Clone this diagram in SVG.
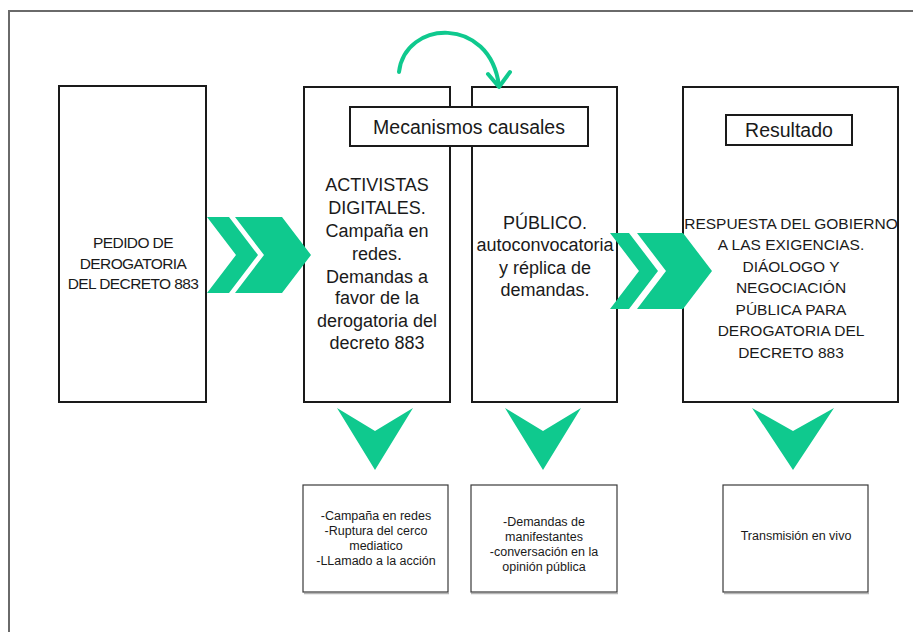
<svg xmlns="http://www.w3.org/2000/svg" width="913" height="632" viewBox="0 0 913 632">
  <defs>
    <style>
      .frame { fill: none; stroke: #6a6a6a; stroke-width: 2; }
      .box { fill: #ffffff; stroke: #1a1a1a; stroke-width: 2; }
      .label { fill: #ffffff; stroke: #1a1a1a; stroke-width: 2; }
      .small { fill: #ffffff; stroke: #3a3a3a; stroke-width: 1.2; }
      .shadow { fill: none; stroke: #b5b5b5; stroke-width: 1.5; }
      .t { font-family: "Liberation Sans", Arial, sans-serif; fill: #1a1a1a; text-anchor: middle; }
      .big { font-size: 18px; }
      .caps { font-size: 15.5px; }
      .head { font-size: 19.5px; }
      .note { font-size: 12.5px; }
      .green { fill: #0fc98e; }
      .curve { fill: none; stroke: #0fc98e; stroke-width: 4; stroke-linecap: round; stroke-linejoin: round; }
    </style>
  </defs>

  <rect width="913" height="632" fill="#ffffff"/>
  <path class="frame" d="M9,632 V11 H913"/>

  <!-- starting demand -->
  <g id="node-pedido">
    <rect class="box" x="59" y="86" width="147" height="316" stroke="#2a2a2a"/>
    <text class="t caps" x="133" y="247.5" font-size="15" letter-spacing="-0.6">PEDIDO DE</text>
    <text class="t caps" x="133" y="268.5" font-size="15" letter-spacing="-0.6">DEROGATORIA</text>
    <text class="t caps" x="133" y="289" font-size="15" letter-spacing="-0.6">DEL DECRETO 883</text>
  </g>

  <!-- digital activists -->
  <g id="node-activistas">
    <rect class="box" x="304" y="87" width="146" height="315"/>
    <text class="t big" x="377" y="191">ACTIVISTAS</text>
    <text class="t big" x="377" y="213.5">DIGITALES.</text>
    <text class="t big" x="377" y="237">Campaña en</text>
    <text class="t big" x="377" y="260">redes.</text>
    <text class="t big" x="377" y="282.5">Demandas a</text>
    <text class="t big" x="377" y="304">favor de la</text>
    <text class="t big" x="377" y="327">derogatoria del</text>
    <text class="t big" x="377" y="349">decreto 883</text>
  </g>

  <!-- public -->
  <g id="node-publico">
    <rect class="box" x="472" y="87" width="145" height="315"/>
    <text class="t big" x="545" y="229">PÚBLICO.</text>
    <text class="t big" x="545" y="251">autoconvocatoria</text>
    <text class="t big" x="545" y="274">y réplica de</text>
    <text class="t big" x="545" y="296">demandas.</text>
  </g>

  <!-- shared heading over the two mechanism boxes -->
  <g id="node-mecanismos">
    <rect class="label" x="350" y="107" width="238" height="39"/>
    <text class="t head" x="469" y="134">Mecanismos causales</text>
  </g>

  <!-- outcome -->
  <g id="node-resultado">
    <rect class="box" x="683" y="87" width="215" height="315" stroke-width="2.5"/>
    <rect class="label" x="726" y="115" width="126" height="30" stroke-width="1.6"/>
    <text class="t head" x="789" y="137">Resultado</text>
    <text class="t caps" x="791" y="228.5">RESPUESTA DEL GOBIERNO</text>
    <text class="t caps" x="791" y="250">A LAS EXIGENCIAS.</text>
    <text class="t caps" x="791" y="271.5">DIÁOLOGO Y</text>
    <text class="t caps" x="791" y="293">NEGOCIACIÓN</text>
    <text class="t caps" x="791" y="314.5">PÚBLICA PARA</text>
    <text class="t caps" x="791" y="336">DEROGATORIA DEL</text>
    <text class="t caps" x="791" y="357.5">DECRETO 883</text>
  </g>

  <!-- detail boxes -->
  <g id="node-detalle-activistas">
    <path class="shadow" d="M304,593.5 H449"/>
    <rect class="small" x="303" y="485" width="145" height="107"/>
    <text class="t note" x="376" y="520">-Campaña en redes</text>
    <text class="t note" x="376" y="535">-Ruptura del cerco</text>
    <text class="t note" x="376" y="550">mediatico</text>
    <text class="t note" x="376" y="565">-LLamado a la acción</text>
  </g>
  <g id="node-detalle-publico">
    <path class="shadow" d="M471,593.5 H618"/>
    <rect class="small" x="471" y="485" width="146" height="107"/>
    <text class="t note" x="544" y="526">-Demandas de</text>
    <text class="t note" x="544" y="541">manifestantes</text>
    <text class="t note" x="544" y="556">-conversación en la</text>
    <text class="t note" x="544" y="571">opinión pública</text>
  </g>
  <g id="node-detalle-resultado">
    <path class="shadow" d="M724,593.5 H869"/>
    <rect class="small" x="723" y="485" width="145" height="107"/>
    <text class="t note" x="796" y="539.5">Transmisión en vivo</text>
  </g>

  <!-- connectors -->
  <g id="connectors">
    <!-- double chevrons between columns -->
    <polygon class="green" points="207,217 229,217 258,255 229,293 207,293 236,255"/>
    <polygon class="green" points="235,217 282,217 311,255 282,293 235,293 264,255"/>
    <polygon class="green" points="610,233 629,233 658,271 629,309 610,309 639,271"/>
    <polygon class="green" points="637,233 683,233 712,271 683,309 637,309 666,271"/>
    <!-- downward chevrons to detail boxes -->
    <polygon class="green" points="337,408 375,431 413,408 375,470"/>
    <polygon class="green" points="505,408 543,431 581,408 543,470"/>
    <polygon class="green" points="752,408 793,431 834,408 793,470"/>
    <!-- curved arrow from activists to public -->
    <path class="curve" d="M399,72 C405,20 490,15 499,86"/>
    <path class="curve" d="M488,74 L499,87 L510,72"/>
  </g>
</svg>
